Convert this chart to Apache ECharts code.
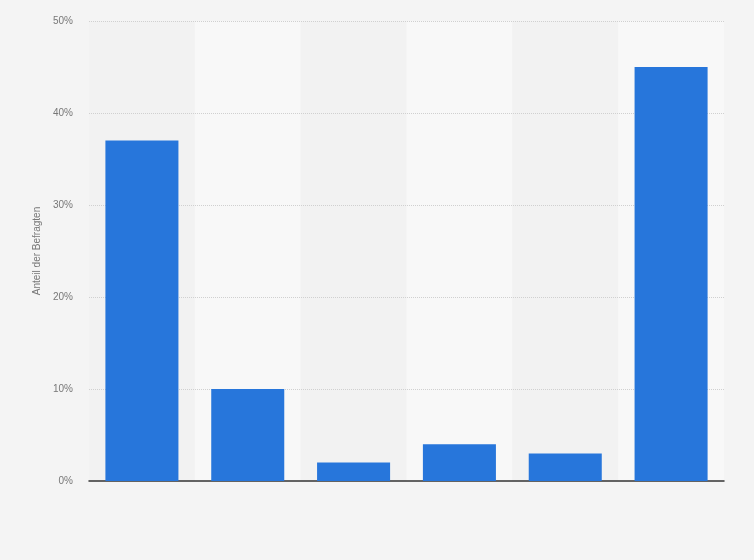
<!DOCTYPE html>
<html>
<head>
<meta charset="utf-8">
<script src="https://cdn.jsdelivr.net/npm/echarts@6/dist/echarts.min.js"></script>
<style>
  html, body { margin: 0; padding: 0; background: #f4f4f4; }
  #chart { width: 754px; height: 560px; }
</style>
</head>
<body>
<div id="chart"></div>
<script>
const categories = ["1", "2", "3", "4", "5", "6"];
const shares = [37, 10, 2, 4, 3, 45];
const yTicks = [0, 10, 20, 30, 40, 50];

const chart = echarts.init(document.getElementById("chart"));
chart.setOption({
  backgroundColor: "#f4f4f4",
  animation: false,
  grid: { left: 89, right: 30, top: 21, bottom: 79 },
  xAxis: {
    type: "category",
    data: categories,
    z: 1,
    axisLine: { lineStyle: { color: "#333333", width: 1.5 } },
    axisTick: { show: false },
    axisLabel: { show: false },
    splitArea: { show: true, areaStyle: { color: ["#f2f2f2", "#f8f8f8"] } },
  },
  yAxis: {
    type: "value",
    min: yTicks[0],
    max: yTicks[yTicks.length - 1],
    interval: 10,
    z: 2,
    name: "Anteil der Befragten",
    nameLocation: "middle",
    nameGap: 41,
    nameTextStyle: { color: "#777777", fontSize: 10, fontFamily: "Arial, Liberation Sans" },
    axisLine: { show: false },
    axisTick: { show: false },
    axisLabel: {
      formatter: "{value}%",
      color: "#777777",
      fontSize: 10,
      fontFamily: "Arial, Liberation Sans",
      margin: 16,
    },
    splitLine: { showMinLine: false, lineStyle: { color: "#d0d0d0", type: "dotted" } },
  },
  series: [
    {
      type: "bar",
      data: shares,
      barWidth: "69%",
      z: 3,
      itemStyle: { color: "#2776db" },
    },
  ],
});
</script>
</body>
</html>
